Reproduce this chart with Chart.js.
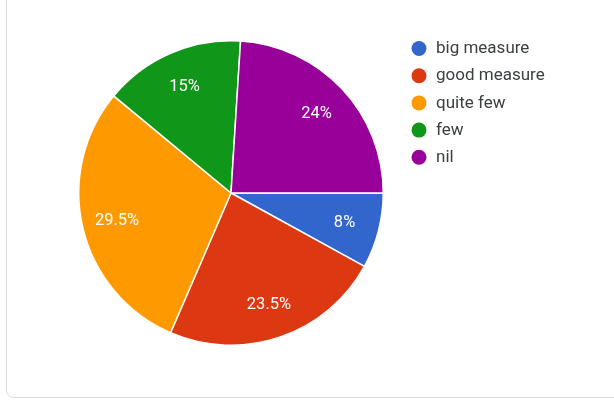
<!DOCTYPE html>
<html>
<head>
<meta charset="utf-8">
<script src="https://cdn.jsdelivr.net/npm/chart.js@4.4.1/dist/chart.umd.min.js"></script>
<style>
  html, body { margin: 0; padding: 0; background: #fff; }
  body { width: 614px; height: 404px; overflow: hidden; position: relative; }
  .card {
    position: absolute; left: 6px; top: -12px; width: 630px; height: 410px;
    border: 1px solid #dadce0; border-radius: 8px; box-sizing: border-box;
  }
  #answers { position: absolute; left: 0; top: 0; }
</style>
</head>
<body>
<div class="card"></div>
<canvas id="answers" width="614" height="404"></canvas>
<script>
const labels = ['big measure', 'good measure', 'quite few', 'few', 'nil'];
const shares = [8, 23.5, 29.5, 15, 24];
const colors = ['#3366cc', '#dc3912', '#ff9900', '#109618', '#990099'];

// percentage text inside each slice
const sliceLabels = {
  id: 'sliceLabels',
  afterDatasetsDraw(chart) {
    const ctx = chart.ctx;
    const meta = chart.getDatasetMeta(0);
    ctx.save();
    ctx.fillStyle = '#ffffff';
    ctx.font = '16.5px Roboto';
    ctx.textAlign = 'center';
    ctx.textBaseline = 'middle';
    meta.data.forEach((arc, i) => {
      const p = arc.getProps(['x', 'y', 'startAngle', 'endAngle', 'outerRadius']);
      const mid = (p.startAngle + p.endAngle) / 2;
      const r = p.outerRadius * 0.77;
      ctx.fillText(shares[i] + '%', p.x + Math.cos(mid) * r, p.y + Math.sin(mid) * r + 1);
    });
    ctx.restore();
  }
};

// legend column on the right
const sideLegend = {
  id: 'sideLegend',
  afterDraw(chart) {
    const ctx = chart.ctx;
    ctx.save();
    ctx.font = '17px Roboto';
    ctx.textBaseline = 'middle';
    labels.forEach((name, i) => {
      const y = 48.5 + i * 27.2;
      ctx.fillStyle = colors[i];
      ctx.beginPath();
      ctx.arc(419, y, 7.5, 0, Math.PI * 2);
      ctx.fill();
      ctx.fillStyle = '#3c4043';
      ctx.fillText(name, 436, y + 0.5);
    });
    ctx.restore();
  }
};

new Chart(document.getElementById('answers'), {
  type: 'pie',
  data: {
    labels: labels,
    datasets: [{
      data: shares,
      backgroundColor: colors,
      borderColor: '#ffffff',
      borderWidth: 1.5
    }]
  },
  options: {
    responsive: false,
    animation: false,
    rotation: 90,
    layout: { padding: { left: 78, right: 230, top: 40, bottom: 58 } },
    plugins: {
      legend: { display: false },
      tooltip: { enabled: false }
    }
  },
  plugins: [sliceLabels, sideLegend]
});
</script>
</body>
</html>
